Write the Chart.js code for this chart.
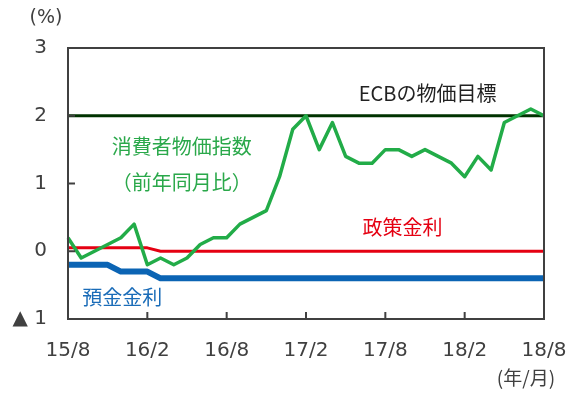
<!DOCTYPE html>
<html><head><meta charset="utf-8">
<script src="https://cdn.jsdelivr.net/npm/chart.js@4"></script>
<style>html,body{margin:0;padding:0;background:#fff;}canvas{display:block;}</style>
</head><body>
<canvas id="c" width="578" height="397"></canvas>
<script>
const months = ['15/8','15/9','15/10','15/11','15/12',
  '16/1','16/2','16/3','16/4','16/5','16/6','16/7','16/8','16/9','16/10','16/11','16/12',
  '17/1','17/2','17/3','17/4','17/5','17/6','17/7','17/8','17/9','17/10','17/11','17/12',
  '18/1','18/2','18/3','18/4','18/5','18/6','18/7','18/8'];
const cpi = [0.2,-0.1,0.0,0.1,0.2,
  0.4,-0.2,-0.1,-0.2,-0.1,0.1,0.2,0.2,0.4,0.5,0.6,1.1,
  1.8,2.0,1.5,1.9,1.4,1.3,1.3,1.5,1.5,1.4,1.5,1.4,
  1.3,1.1,1.4,1.2,1.9,2.0,2.1,2.0];
const policyRate = [0.05,0.05,0.05,0.05,0.05,
  0.05,0.05,0,0,0,0,0,0,0,0,0,0,
  0,0,0,0,0,0,0,0,0,0,0,0,
  0,0,0,0,0,0,0,0];
const depositRate = [-0.2,-0.2,-0.2,-0.2,-0.3,
  -0.3,-0.3,-0.4,-0.4,-0.4,-0.4,-0.4,-0.4,-0.4,-0.4,-0.4,-0.4,
  -0.4,-0.4,-0.4,-0.4,-0.4,-0.4,-0.4,-0.4,-0.4,-0.4,-0.4,-0.4,
  -0.4,-0.4,-0.4,-0.4,-0.4,-0.4,-0.4,-0.4];
const ecbTarget = [2,2,2,2,2,
  2,2,2,2,2,2,2,2,2,2,2,2,
  2,2,2,2,2,2,2,2,2,2,2,2,
  2,2,2,2,2,2,2,2];
const yTicks = [-1,0,1,2,3];
const xTickIndexes = [0,6,12,18,24,30,36];

const notes = [
  {text:'ECBの物価目標', x:27.2, y:2.33, color:'#222222'},
  {text:'消費者物価指数', x:8.6, y:1.55, color:'#2aa84a'},
  {text:'（前年同月比）', x:8.6, y:1.02, color:'#2aa84a'},
  {text:'政策金利', x:25.3, y:0.355, color:'#e50012'},
  {text:'預金金利', x:4.1, y:-0.68, color:'#1a6cb8'}
];

const frameColor = '#404040';
const cjkFont = '"Noto Sans CJK JP", sans-serif';
const numFont = '"DejaVu Sans", "Noto Sans CJK JP", sans-serif';

const framePlugin = {
  id:'frame',
  afterDatasetsDraw(chart){
    const {ctx, chartArea:a, scales:{x,y}} = chart;
    ctx.save();
    ctx.strokeStyle = frameColor;
    ctx.lineWidth = 2;
    ctx.strokeRect(a.left, a.top, a.right-a.left, a.bottom-a.top);
    ctx.beginPath();
    xTickIndexes.forEach(i=>{
      const px = x.getPixelForValue(i);
      ctx.moveTo(px, a.bottom); ctx.lineTo(px, a.bottom-7);
    });
    yTicks.forEach(v=>{
      const py = y.getPixelForValue(v);
      ctx.moveTo(a.left, py); ctx.lineTo(a.left+7, py);
    });
    ctx.stroke();
    ctx.textAlign='center'; ctx.textBaseline='middle';
    ctx.font = '20px ' + cjkFont;
    notes.forEach(n=>{
      ctx.fillStyle = n.color;
      ctx.fillText(n.text, x.getPixelForValue(n.x), y.getPixelForValue(n.y));
    });
    ctx.fillStyle = '#404040';
    ctx.font = '19px ' + numFont;
    ctx.fillText('(%)', 46, 18);
    ctx.font = '19px ' + cjkFont;
    ctx.fillText('(年/月)', 526, 378);
    ctx.restore();
  }
};

new Chart(document.getElementById('c'), {
  type:'line',
  data:{
    labels: months,
    datasets:[
      {label:'消費者物価指数', data:cpi, borderColor:'#22ac48', borderWidth:3.5, order:0},
      {label:'預金金利', data:depositRate, borderColor:'#0b64b4', borderWidth:6, order:1},
      {label:'政策金利', data:policyRate, borderColor:'#e50012', borderWidth:3, order:2},
      {label:'ECBの物価目標', data:ecbTarget, borderColor:'#003300', borderWidth:3, order:3}
    ]
  },
  options:{
    responsive:false,
    devicePixelRatio:1,
    animation:false,
    events:[],
    layout:{padding:{left:0, top:48, right:34, bottom:0}},
    elements:{point:{radius:0}, line:{tension:0, borderJoinStyle:'round', borderCapStyle:'butt'}},
    plugins:{legend:{display:false}, tooltip:{enabled:false}},
    scales:{
      x:{
        offset:false,
        grid:{display:false, drawTicks:false},
        border:{display:false},
        ticks:{
          autoSkip:false, maxRotation:0, padding:20, color:'#404040',
          font:{family:numFont, size:20},
          callback:(v,i)=> xTickIndexes.includes(i) ? months[i] : ''
        },
        afterFit:(s)=>{ s.height = 78; s.paddingRight = 0; s.paddingLeft = 0; }
      },
      y:{
        min:-1, max:3,
        grid:{display:false, drawTicks:false},
        border:{display:false},
        ticks:{
          stepSize:1, padding:21, color:'#404040',
          font:{family:numFont, size:20},
          callback:(v)=> v<0 ? '▲ ' + Math.abs(v) : String(v)
        },
        afterFit:(s)=>{ s.width = 68; s.paddingTop = 0; s.paddingBottom = 0; }
      }
    }
  },
  plugins:[framePlugin]
});
</script>
</body></html>
